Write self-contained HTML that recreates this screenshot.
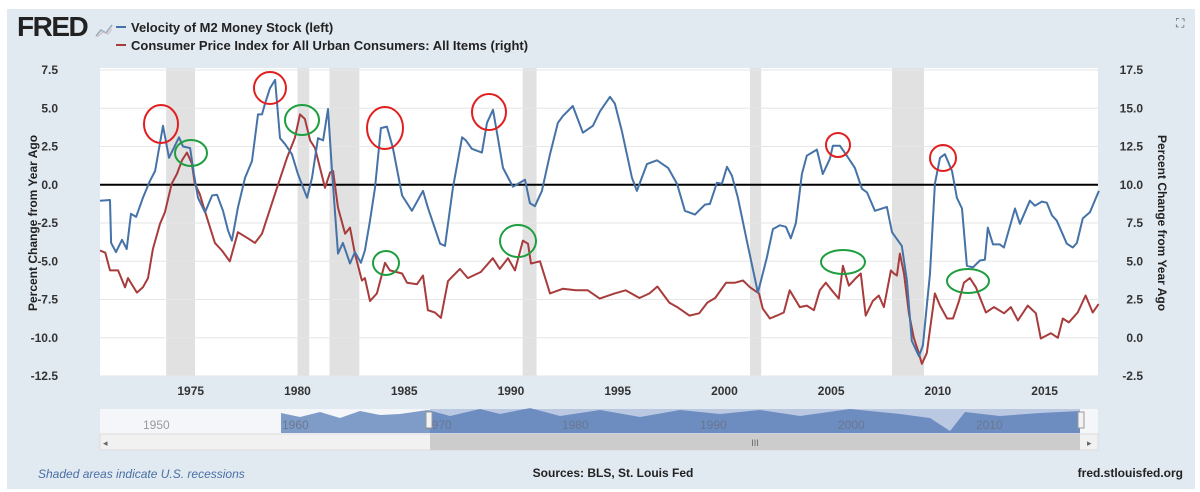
<!DOCTYPE html>
<html><head><meta charset="utf-8"><style>
body{margin:0;background:#fff;font-family:"Liberation Sans",Arial,sans-serif}
#wrap{position:absolute;left:7px;top:9px;width:1188px;height:480px;background:#e1e9f1}
</style></head><body>
<div id="wrap"></div>
<svg id="svg" width="1200" height="492" style="position:absolute;left:0;top:0"></svg>
<script>
// ---- data ----
const recessions = [[1973.85,1975.2],[1980.0,1980.55],[1981.5,1982.9],[1990.55,1991.2],[2001.2,2001.72],[2007.85,2009.35]];
const velYears = [1970.75,1971.22,1971.27,1971.5,1971.78,1972.0,1972.2,1972.44,1972.76,1973.09,1973.33,1973.7,1973.98,1974.45,1974.64,1974.97,1975.15,1975.34,1975.67,1976.0,1976.23,1976.51,1976.75,1976.93,1977.21,1977.54,1977.87,1978.15,1978.34,1978.48,1978.71,1978.95,1979.18,1979.42,1979.74,1980.02,1980.45,1980.68,1980.96,1981.2,1981.43,1981.62,1981.9,1982.13,1982.46,1982.69,1982.97,1983.16,1983.4,1983.63,1983.91,1984.19,1984.47,1984.9,1985.36,1985.88,1986.11,1986.68,1986.91,1987.28,1987.71,1987.89,1988.17,1988.64,1988.88,1989.16,1989.39,1989.63,1990.09,1990.66,1990.89,1991.12,1991.45,1991.83,1992.2,1992.44,1992.9,1993.37,1993.84,1994.17,1994.64,1994.87,1995.2,1995.67,1995.9,1996.37,1996.84,1997.36,1997.78,1998.15,1998.62,1999.09,1999.32,1999.65,1999.88,2000.12,2000.35,2000.63,2001.05,2001.57,2001.99,2002.27,2002.6,2002.88,2003.11,2003.35,2003.63,2003.86,2004.33,2004.61,2004.94,2005.08,2005.41,2005.78,2006.11,2006.44,2006.68,2007.05,2007.61,2007.85,2008.31,2008.55,2008.78,2009.11,2009.3,2009.63,2009.86,2010.1,2010.33,2010.66,2010.89,2011.13,2011.36,2011.64,2011.97,2012.2,2012.34,2012.58,2012.9,2013.09,2013.61,2013.84,2014.31,2014.54,2014.87,2015.1,2015.34,2015.57,2016.04,2016.32,2016.51,2016.79,2017.12,2017.54];
const velValues = [-1.04,-1.0,-3.8,-4.4,-3.6,-4.2,-1.9,-2.1,-0.85,0.26,0.9,3.85,1.76,3.1,2.5,2.4,0.7,-0.85,-1.8,-0.7,-0.65,-1.7,-3.0,-3.65,-1.5,0.45,1.55,4.6,4.6,5.3,6.3,6.85,3.05,2.65,2.0,0.7,-0.85,0.45,3.05,2.9,4.95,0.9,-4.5,-3.8,-5.15,-4.4,-5.1,-4.3,-2.35,-0.2,3.7,3.8,2.4,-0.7,-1.7,-0.4,-1.5,-3.85,-4.0,-0.2,3.1,2.9,2.35,2.1,4.05,4.9,3.05,1.1,-0.13,0.33,-1.2,-1.4,-0.4,2.0,4.05,4.5,5.15,3.4,3.85,4.8,5.75,5.3,3.5,0.45,-0.4,1.35,1.6,1.1,0.07,-1.7,-1.95,-1.3,-1.25,0.13,0.07,1.17,0.6,-0.85,-3.65,-7.05,-4.75,-2.9,-2.65,-2.75,-3.5,-2.5,0.7,1.9,2.3,0.7,1.7,2.55,2.55,1.8,1.1,-0.26,-0.5,-1.7,-1.45,-3.1,-4.0,-6.25,-10.2,-11.2,-10.5,-5.8,0.07,1.76,2.0,0.9,-0.85,-1.55,-5.3,-5.4,-4.95,-4.9,-2.8,-3.9,-3.9,-4.1,-1.55,-2.55,-1.04,-1.37,-1.1,-1.17,-2.0,-2.35,-3.85,-4.1,-3.8,-2.2,-1.8,-0.4];
const cpiYears = [1970.75,1971.0,1971.22,1971.6,1971.92,1972.06,1972.48,1972.76,1973.0,1973.23,1973.56,1973.79,1974.11,1974.35,1974.59,1974.82,1975.05,1975.19,1975.42,1975.66,1976.13,1976.46,1976.83,1977.21,1977.68,1978.01,1978.34,1978.62,1979.04,1979.51,1979.88,1980.12,1980.35,1980.59,1980.82,1981.29,1981.53,1981.67,1981.9,1982.23,1982.46,1982.69,1983.02,1983.16,1983.4,1983.72,1984.1,1984.33,1984.9,1985.13,1985.6,1985.88,1986.11,1986.44,1986.72,1987.05,1987.61,1987.98,1988.59,1989.15,1989.48,1989.86,1990.19,1990.56,1990.8,1990.94,1991.36,1991.83,1992.43,1993.04,1993.6,1994.16,1994.86,1995.37,1996.02,1996.49,1996.86,1997.42,1997.79,1998.36,1998.82,1999.2,1999.57,2000.08,2000.5,2000.87,2001.2,2001.62,2001.8,2002.13,2002.46,2002.78,2003.06,2003.53,2003.86,2004.19,2004.47,2004.75,2005.03,2005.36,2005.55,2005.83,2006.16,2006.39,2006.62,2006.95,2007.23,2007.47,2007.8,2007.94,2008.08,2008.22,2008.41,2008.64,2008.87,2009.06,2009.25,2009.48,2009.86,2010.1,2010.43,2010.71,2010.99,2011.22,2011.5,2011.78,2012.25,2012.63,2013.1,2013.42,2013.75,2014.21,2014.59,2014.82,2015.29,2015.62,2015.85,2016.13,2016.55,2016.92,2017.25,2017.53];
const cpiValues = [5.7,5.56,4.4,4.4,3.3,3.9,2.95,3.3,3.9,5.8,7.45,8.2,10.07,10.7,11.6,12.1,11.4,10.07,9.4,8.3,6.2,5.7,5.0,6.9,6.5,6.2,6.8,8.0,9.8,11.76,13.07,14.6,14.3,12.9,12.4,9.8,10.8,10.9,8.5,6.8,7.2,5.5,3.74,3.9,2.4,2.9,4.9,4.4,4.2,3.6,3.5,4.06,1.8,1.65,1.3,3.7,4.5,3.9,4.3,5.2,4.5,5.2,4.4,6.35,6.15,4.85,5.0,2.9,3.2,3.1,3.1,2.56,2.9,3.1,2.6,2.9,3.35,2.3,2.0,1.45,1.6,2.3,2.6,3.6,3.6,3.74,3.3,2.9,1.9,1.26,1.45,1.65,3.1,2.0,2.1,1.8,3.1,3.6,3.1,2.56,4.7,3.4,3.9,4.2,1.45,2.4,2.76,2.0,4.4,4.2,4.06,5.5,4.2,1.6,0.0,-0.8,-1.7,-1.0,2.9,2.1,1.26,1.26,2.4,3.6,3.9,3.3,1.65,2.0,1.6,2.0,1.13,2.1,1.6,-0.05,0.3,0.0,1.26,1.0,1.65,2.76,1.65,2.2];
const leftTicks = [7.5,5.0,2.5,0.0,-2.5,-5.0,-7.5,-10.0,-12.5];
const rightTicks = [17.5,15.0,12.5,10.0,7.5,5.0,2.5,0.0,-2.5];
const xTicks = [1975,1980,1985,1990,1995,2000,2005,2010,2015];

// ---- scales ----
const X0=100,X1=1098,Y0=70,Y1=376;
const xs=y=>X0+(y-1970.75)/(2017.5-1970.75)*(X1-X0);
const yl=v=>Y0+(7.5-v)/20*(Y1-Y0);
const yr=v=>Y0+(17.5-v)/20*(Y1-Y0);
const svg=document.getElementById('svg');
const NS='http://www.w3.org/2000/svg';
function mk(t,a,parent){const e=document.createElementNS(NS,t);for(const k in a)e.setAttribute(k,a[k]);(parent||svg).appendChild(e);return e;}

let e=mk('rect',{x:X0,y:Y0-2,width:X1-X0,height:Y1-Y0+2,fill:'#fff'});


recessions.forEach(r=>{const b=mk('rect',{x:xs(r[0]),y:Y0-2,width:xs(r[1])-xs(r[0]),height:Y1-Y0+2,fill:'#e1e1e1'});

});
leftTicks.forEach((v,i)=>{
 const g=mk('line',{x1:X0,x2:X1,y1:yl(v),y2:yl(v),stroke:v===0?'#000':'#e6e6e6','stroke-width':v===0?2:1});
 
 
 const t=mk('text',{x:58,y:yl(v)+4,'text-anchor':'end','font-size':12,'font-weight':'bold',fill:'#333'});t.textContent=v.toFixed(1);
 
 
 const t2=mk('text',{x:1143,y:yr(rightTicks[i])+4,'text-anchor':'end','font-size':12,'font-weight':'bold',fill:'#333'});t2.textContent=rightTicks[i].toFixed(1);
 
 
});
xTicks.forEach(y=>{const t=mk('text',{x:xs(y),y:395,'text-anchor':'middle','font-size':12,'font-weight':'bold',fill:'#333'});t.textContent=y;
 
 });
function line(xsArr,vals,sc,col,name){const d=xsArr.map((y,i)=>(i?'L':'M')+xs(y).toFixed(1)+','+sc(vals[i]).toFixed(1)).join('');
 const p=mk('path',{d:d,fill:'none',stroke:col,'stroke-width':2,'stroke-linejoin':'round'});
 
 }
line(cpiYears,cpiValues,yr,'#a83c3c','cpi-line');
line(velYears,velValues,yl,'#4572a7','velocity-line');
// annotations
[[161,124,17,19],[270,88,16,16],[385,128,18,21],[489,112,17,18],[838,145,12,12],[943,158,13,13]].forEach(c=>{const a=mk('ellipse',{cx:c[0],cy:c[1],rx:c[2],ry:c[3],fill:'none',stroke:'#e02020','stroke-width':2});
 
 });
[[191,153,16,13],[302,120,17,15],[386,263,13,12],[518,241,18,16],[843,262,22,12],[968,281,21,12]].forEach(c=>{const a=mk('ellipse',{cx:c[0],cy:c[1],rx:c[2],ry:c[3],fill:'none',stroke:'#1e9e3e','stroke-width':2});
 
 });
</script>
<svg width="1200" height="492" style="position:absolute;left:0;top:0;pointer-events:none">
 <text x="17" y="36" font-size="28" font-weight="bold" fill="#222" font-family="Liberation Sans" letter-spacing="-1.5">FRED</text>
 <polyline points="96,36 101,30 106,33 112,25" fill="none" stroke="#9ab" stroke-width="1.5"/>
 <polyline points="97,37 103,32 108,34 112,29" fill="none" stroke="#cbb" stroke-width="1"/>
 <line x1="116" y1="27" x2="126" y2="27" stroke="#4572a7" stroke-width="2"/>
 <text x="131" y="32" font-size="13" font-weight="bold" fill="#222">Velocity of M2 Money Stock (left)</text>
 <line x1="116" y1="45" x2="126" y2="45" stroke="#a83c3c" stroke-width="2"/>
 <text x="131" y="50" font-size="13" font-weight="bold" fill="#222">Consumer Price Index for All Urban Consumers: All Items (right)</text>
 <text x="1176" y="27" font-size="12" fill="#555">⛶</text>
 <text transform="translate(37,223) rotate(-90)" text-anchor="middle" font-size="12" font-weight="bold" fill="#222">Percent Change from Year Ago</text>
 <text transform="translate(1158,223) rotate(90)" text-anchor="middle" font-size="12" font-weight="bold" fill="#222">Percent Change from Year Ago</text>
 <rect x="100" y="409" width="998" height="25" fill="#f4f6f9"/>
 <path d="M281,413 L300,417 L320,412 L340,418 L360,411 L380,415 L400,414 L428,410 L450,416 L480,409 L500,414 L530,408 L560,416 L600,410 L640,417 L680,410 L720,414 L760,410 L800,416 L850,409 L900,414 L930,418 L950,431 L965,412 L1000,416 L1040,413 L1080,411 L1080,433 L281,433Z" fill="#7f9cc8"/>
 <rect x="430" y="409" width="650" height="25" fill="#4d74b5" fill-opacity="0.35"/>
 <text x="143" y="429" font-size="12" fill="#999">1950</text>
 <text x="282" y="429" font-size="12" fill="#6a7790">1960</text>
 <text x="425" y="429" font-size="12" fill="#6a7790">1970</text>
 <text x="562" y="429" font-size="12" fill="#6a7790">1980</text>
 <text x="700" y="429" font-size="12" fill="#6a7790">1990</text>
 <text x="838" y="429" font-size="12" fill="#6a7790">2000</text>
 <text x="976" y="429" font-size="12" fill="#6a7790">2010</text>
 <rect x="426" y="412" width="6" height="16" fill="#f2f2f2" stroke="#999"/>
 <rect x="1078" y="412" width="6" height="16" fill="#f2f2f2" stroke="#999"/>
 <rect x="100" y="434" width="998" height="16" fill="#f1f1f1" stroke="#ddd"/>
 <rect x="430" y="434" width="650" height="16" fill="#cccccc"/>
 <text x="755" y="446" font-size="9" fill="#666" text-anchor="middle">III</text>
 <text x="103" y="446" font-size="9" fill="#666">◂</text>
 <text x="1087" y="446" font-size="9" fill="#666">▸</text>
 <text x="38" y="478" font-size="12" font-style="italic" fill="#4a6fa5">Shaded areas indicate U.S. recessions</text>
 <text x="613" y="477" font-size="12" font-weight="bold" fill="#222" text-anchor="middle">Sources: BLS, St. Louis Fed</text>
 <text x="1183" y="477" font-size="12" font-weight="bold" fill="#222" text-anchor="end">fred.stlouisfed.org</text>
</svg>
</body></html>
